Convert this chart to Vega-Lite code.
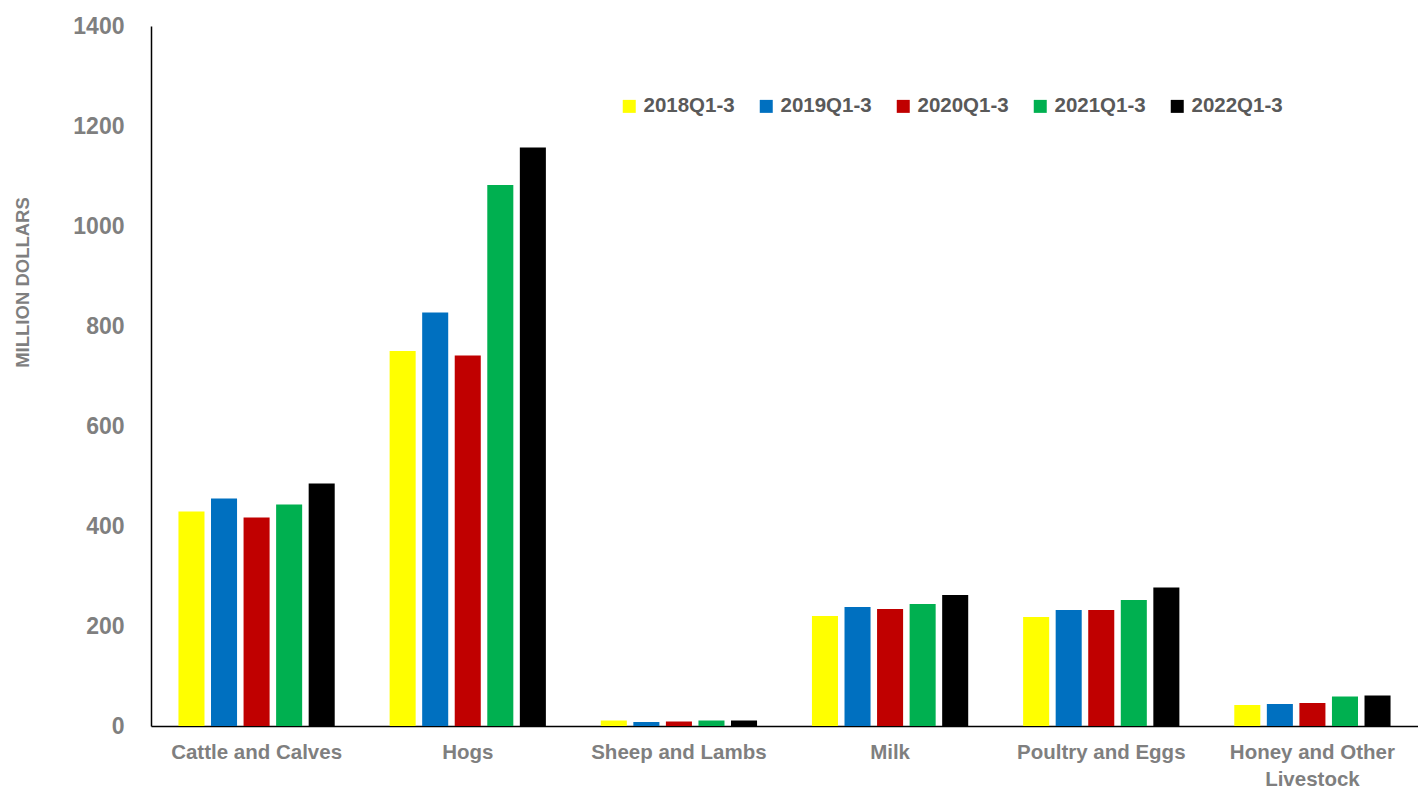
{
  "$schema": "https://vega.github.io/schema/vega-lite/v6.json",
  "width": 1267,
  "height": 700,
  "autosize": {"type": "none"},
  "padding": {"left": 151, "top": 26, "right": 0, "bottom": 64},
  "background": "white",
  "config": {
    "view": {"stroke": null},
    "font": "Liberation Sans"
  },
  "data": {
    "values": [
      {"category": "Cattle and Calves", "period": "2018Q1-3", "value": 429},
      {"category": "Cattle and Calves", "period": "2019Q1-3", "value": 455},
      {"category": "Cattle and Calves", "period": "2020Q1-3", "value": 417},
      {"category": "Cattle and Calves", "period": "2021Q1-3", "value": 443},
      {"category": "Cattle and Calves", "period": "2022Q1-3", "value": 485},
      {"category": "Hogs", "period": "2018Q1-3", "value": 750},
      {"category": "Hogs", "period": "2019Q1-3", "value": 827},
      {"category": "Hogs", "period": "2020Q1-3", "value": 741},
      {"category": "Hogs", "period": "2021Q1-3", "value": 1082},
      {"category": "Hogs", "period": "2022Q1-3", "value": 1157},
      {"category": "Sheep and Lambs", "period": "2018Q1-3", "value": 11},
      {"category": "Sheep and Lambs", "period": "2019Q1-3", "value": 8},
      {"category": "Sheep and Lambs", "period": "2020Q1-3", "value": 9},
      {"category": "Sheep and Lambs", "period": "2021Q1-3", "value": 11},
      {"category": "Sheep and Lambs", "period": "2022Q1-3", "value": 11},
      {"category": "Milk", "period": "2018Q1-3", "value": 220},
      {"category": "Milk", "period": "2019Q1-3", "value": 238},
      {"category": "Milk", "period": "2020Q1-3", "value": 234},
      {"category": "Milk", "period": "2021Q1-3", "value": 244},
      {"category": "Milk", "period": "2022Q1-3", "value": 262},
      {"category": "Poultry and Eggs", "period": "2018Q1-3", "value": 218},
      {"category": "Poultry and Eggs", "period": "2019Q1-3", "value": 232},
      {"category": "Poultry and Eggs", "period": "2020Q1-3", "value": 232},
      {"category": "Poultry and Eggs", "period": "2021Q1-3", "value": 252},
      {"category": "Poultry and Eggs", "period": "2022Q1-3", "value": 277},
      {"category": "Honey and Other Livestock", "period": "2018Q1-3", "value": 42},
      {"category": "Honey and Other Livestock", "period": "2019Q1-3", "value": 44},
      {"category": "Honey and Other Livestock", "period": "2020Q1-3", "value": 46},
      {"category": "Honey and Other Livestock", "period": "2021Q1-3", "value": 59},
      {"category": "Honey and Other Livestock", "period": "2022Q1-3", "value": 61}
    ]
  },
  "mark": {"type": "bar"},
  "encoding": {
    "x": {
      "field": "category",
      "type": "nominal",
      "sort": null,
      "scale": {"paddingInner": 0.26, "paddingOuter": 0.13},
      "axis": {
        "title": null,
        "labelAngle": 0,
        "ticks": false,
        "domainColor": "#000000",
        "domainWidth": 1.5,
        "labelFont": "Liberation Sans",
        "labelFontWeight": "bold",
        "labelFontSize": 20.5,
        "labelColor": "#7F7F7F",
        "labelPadding": 16,
        "labelLineHeight": 27,
        "labelExpr": "datum.label == 'Honey and Other Livestock' ? ['Honey and Other', 'Livestock'] : datum.label"
      }
    },
    "xOffset": {
      "field": "period",
      "type": "nominal",
      "scale": {"paddingInner": 0.2}
    },
    "y": {
      "field": "value",
      "type": "quantitative",
      "scale": {"domain": [0, 1400], "nice": false},
      "axis": {
        "values": [0, 200, 400, 600, 800, 1000, 1200, 1400],
        "format": "d",
        "grid": false,
        "ticks": false,
        "domainColor": "#000000",
        "domainWidth": 1.5,
        "labelFont": "Liberation Sans",
        "labelFontWeight": "bold",
        "labelFontSize": 23,
        "labelColor": "#7F7F7F",
        "labelPadding": 27,
        "title": "MILLION DOLLARS",
        "titleFont": "Liberation Sans",
        "titleFontWeight": "bold",
        "titleFontSize": 18.5,
        "titleColor": "#7F7F7F",
        "titleAngle": -90,
        "titleX": -129,
        "titleY": 256,
        "titleAlign": "center",
        "titleBaseline": "middle"
      }
    },
    "color": {
      "field": "period",
      "type": "nominal",
      "scale": {
        "domain": ["2018Q1-3", "2019Q1-3", "2020Q1-3", "2021Q1-3", "2022Q1-3"],
        "range": ["#FFFF00", "#0070C0", "#C00000", "#00B050", "#000000"]
      },
      "legend": {
        "title": null,
        "orient": "none",
        "direction": "horizontal",
        "columns": 5,
        "legendX": 468,
        "legendY": 70,
        "symbolType": "square",
        "symbolSize": 169,
        "symbolStrokeWidth": 0,
        "symbolOpacity": 1,
        "labelFont": "Liberation Sans",
        "labelFontWeight": "bold",
        "labelFontSize": 20.5,
        "labelColor": "#595959",
        "labelOffset": 4,
        "columnPadding": 21
      }
    }
  }
}
